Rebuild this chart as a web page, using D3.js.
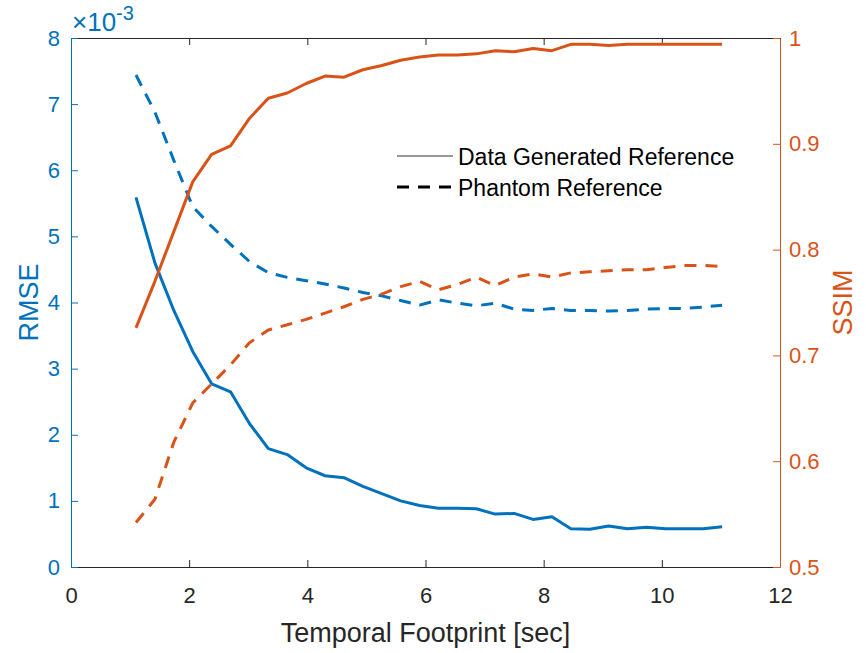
<!DOCTYPE html>
<html>
<head>
<meta charset="utf-8">
<script src="https://cdn.jsdelivr.net/npm/d3@7"></script>
<style>
  body { margin: 0; background: #fff; }
  svg { display: block; font-family: "Liberation Sans", Arial, Helvetica, sans-serif; }
</style>
</head>
<body>
<div id="chart"></div>
<script>
// Temporal footprint (sec)
const footprint = [1.10, 1.42, 1.74, 2.06, 2.38, 2.70, 3.02, 3.34, 3.66, 3.98, 4.30, 4.62, 4.94, 5.26, 5.58, 5.90,
                   6.22, 6.54, 6.86, 7.18, 7.50, 7.82, 8.14, 8.46, 8.78, 9.10, 9.42, 9.74, 10.06, 10.38, 10.70, 11.02];
// RMSE values in units of 1e-3
const rmseData = [5.59, 4.60, 3.88, 3.26, 2.77, 2.65, 2.17, 1.79, 1.70, 1.50, 1.38, 1.35, 1.22, 1.11, 1.00, 0.93,
                  0.89, 0.89, 0.88, 0.80, 0.81, 0.72, 0.76, 0.58, 0.57, 0.62, 0.58, 0.60, 0.58, 0.58, 0.58, 0.61];
const rmsePhantom = [7.44, 6.88, 6.15, 5.45, 5.15, 4.88, 4.62, 4.45, 4.38, 4.33, 4.28, 4.22, 4.15, 4.10, 4.03, 3.96,
                     4.04, 3.99, 3.95, 3.99, 3.90, 3.88, 3.91, 3.88, 3.88, 3.87, 3.88, 3.90, 3.91, 3.91, 3.93, 3.96];
const ssimData = [0.726, 0.770, 0.817, 0.864, 0.890, 0.898, 0.924, 0.943, 0.948, 0.957, 0.964, 0.963, 0.970, 0.974, 0.979, 0.982,
                  0.984, 0.984, 0.985, 0.988, 0.987, 0.990, 0.988, 0.994, 0.994, 0.993, 0.994, 0.994, 0.994, 0.994, 0.994, 0.994];
const ssimPhantom = [0.542, 0.564, 0.618, 0.655, 0.673, 0.691, 0.712, 0.724, 0.729, 0.734, 0.740, 0.746, 0.753, 0.758, 0.765, 0.770,
                     0.762, 0.767, 0.774, 0.766, 0.774, 0.777, 0.774, 0.778, 0.779, 0.780, 0.781, 0.781, 0.783, 0.785, 0.785, 0.784];

const xTicks = [0, 2, 4, 6, 8, 10, 12];
const leftTicks = [0, 1, 2, 3, 4, 5, 6, 7, 8];
const rightTicks = [0.5, 0.6, 0.7, 0.8, 0.9, 1];
const legendLabels = ["Data Generated Reference", "Phantom Reference"];

const blue = "#0072BD";
const orange = "#D95319";
const dark = "#262626";

const svgWidth = 866, svgHeight = 653;
const margin = { top: 38, right: 86, bottom: 86, left: 71 };
const width = svgWidth - margin.left - margin.right;
const height = svgHeight - margin.top - margin.bottom;

const svg = d3.select("#chart")
    .append("svg")
    .attr("width", svgWidth)
    .attr("height", svgHeight);

const g = svg.append("g")
    .attr("transform", `translate(${margin.left},${margin.top})`);

// Scales
const xScale = d3.scaleLinear().domain([0, 12]).range([0, width]);
const yLeft = d3.scaleLinear().domain([0, 8]).range([height, 0]);
const yRight = d3.scaleLinear().domain([0.5, 1]).range([height, 0]);

const tickLen = 7;

function styleAxis(sel, color, fontSize) {
    sel.select(".domain").attr("stroke", color).attr("stroke-width", 1);
    sel.selectAll(".tick line").attr("stroke", color).attr("stroke-width", 1);
    sel.selectAll("text").attr("fill", color).attr("font-size", fontSize);
}

// Bottom axis
g.append("g")
    .attr("transform", `translate(0,${height})`)
    .call(d3.axisBottom(xScale).tickValues(xTicks).tickSizeInner(-tickLen).tickSizeOuter(0).tickPadding(20))
    .call(sel => styleAxis(sel, dark, "22px"));

// Top axis (ticks only)
g.append("g")
    .call(d3.axisTop(xScale).tickValues(xTicks).tickSizeInner(-tickLen).tickSizeOuter(0).tickFormat(""))
    .call(sel => styleAxis(sel, dark, "22px"));

// Left axis
g.append("g")
    .call(d3.axisLeft(yLeft).tickValues(leftTicks).tickSizeInner(-tickLen).tickSizeOuter(0).tickPadding(11))
    .call(sel => styleAxis(sel, blue, "22px"));

// Right axis
g.append("g")
    .attr("transform", `translate(${width},0)`)
    .call(d3.axisRight(yRight).tickValues(rightTicks).tickSizeInner(-tickLen).tickSizeOuter(0).tickPadding(9)
        .tickFormat(d => d === 1 ? "1" : d3.format(".1f")(d)))
    .call(sel => styleAxis(sel, orange, "22px"));

// Lines
const lineLeft = vals => d3.line()
    .x((d, i) => xScale(footprint[i]))
    .y(d => yLeft(d))(vals);
const lineRight = vals => d3.line()
    .x((d, i) => xScale(footprint[i]))
    .y(d => yRight(d))(vals);

const series = [
    { path: lineLeft(rmsePhantom), color: blue, dash: "12,9" },
    { path: lineRight(ssimPhantom), color: orange, dash: "12,9" },
    { path: lineLeft(rmseData), color: blue, dash: null },
    { path: lineRight(ssimData), color: orange, dash: null }
];

series.forEach(s => {
    g.append("path")
        .attr("d", s.path)
        .attr("fill", "none")
        .attr("stroke", s.color)
        .attr("stroke-width", 3)
        .attr("stroke-linejoin", "round")
        .attr("stroke-dasharray", s.dash);
});

// Exponent label
const expo = svg.append("text")
    .attr("x", margin.left + 1)
    .attr("y", 31)
    .attr("fill", blue)
    .attr("font-size", "26px");
expo.append("tspan").text("\u00d710");
expo.append("tspan").attr("dy", -11).attr("font-size", "20px").text("-3");

// Axis labels
svg.append("text")
    .attr("transform", `translate(38,${margin.top + height / 2}) rotate(-90)`)
    .attr("text-anchor", "middle")
    .attr("fill", blue)
    .attr("font-size", "27px")
    .text("RMSE");

svg.append("text")
    .attr("transform", `translate(852,${margin.top + height / 2}) rotate(-90)`)
    .attr("text-anchor", "middle")
    .attr("fill", orange)
    .attr("font-size", "27px")
    .text("SSIM");

svg.append("text")
    .attr("x", margin.left + width / 2)
    .attr("y", 642)
    .attr("text-anchor", "middle")
    .attr("fill", dark)
    .attr("font-size", "27px")
    .text("Temporal Footprint [sec]");

// Legend
const legend = svg.append("g").attr("transform", "translate(397,156)");
legend.append("line")
    .attr("x1", 0).attr("x2", 56).attr("y1", 0).attr("y2", 0)
    .attr("stroke", "#333").attr("stroke-width", 1);
legend.append("line")
    .attr("x1", 0).attr("x2", 56).attr("y1", 31).attr("y2", 31)
    .attr("stroke", "#000").attr("stroke-width", 3).attr("stroke-dasharray", "12,9");
legend.selectAll("text.lab")
    .data(legendLabels)
    .enter()
    .append("text")
    .attr("class", "lab")
    .attr("x", 61)
    .attr("y", (d, i) => 9 + i * 31)
    .attr("fill", "#000")
    .attr("font-size", "23px")
    .text(d => d);
</script>
</body>
</html>
